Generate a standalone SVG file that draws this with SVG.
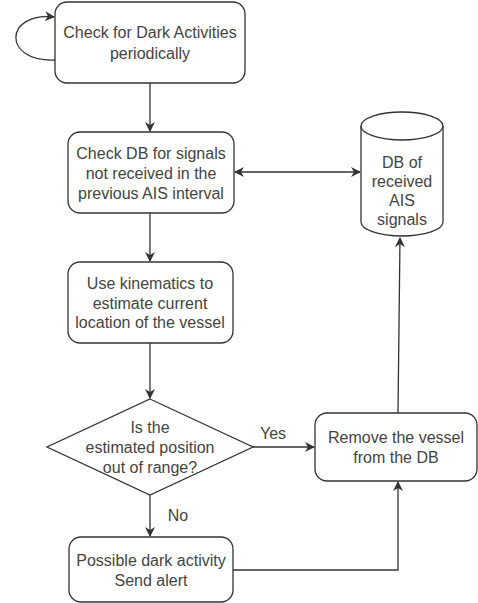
<svg xmlns="http://www.w3.org/2000/svg" width="478" height="603" viewBox="0 0 478 603">
<defs>
<style>
.n{fill:#fff;stroke:#333;stroke-width:1.3}
.t{font-family:"Liberation Sans",Arial,sans-serif;font-size:16px;fill:#444;text-anchor:middle}
.c{fill:none;stroke:#333;stroke-width:1.3}
</style>
<marker id="ah" viewBox="0 0 10 10" refX="9" refY="5" markerWidth="10" markerHeight="10" markerUnits="userSpaceOnUse" orient="auto-start-reverse">
<path d="M0,0 L10,5 L0,10 L3,5 Z" fill="#333"/>
</marker>
</defs>
<rect width="478" height="603" fill="#fff"/>
<g id="connectors">
<path class="c" d="M55,60 C2,62 4,12 54,17" marker-end="url(#ah)"/>
<path class="c" d="M150,83 L150,131" marker-end="url(#ah)"/>
<path class="c" d="M235,172 L360,172" marker-start="url(#ah)" marker-end="url(#ah)"/>
<path class="c" d="M150,213 L150,261" marker-end="url(#ah)"/>
<path class="c" d="M150,343 L150,398" marker-end="url(#ah)"/>
<path class="c" d="M253,447 L314,447" marker-end="url(#ah)"/>
<path class="c" d="M150,495 L150,536" marker-end="url(#ah)"/>
<path class="c" d="M233,570 L398,570 L398,482" marker-end="url(#ah)"/>
<path class="c" d="M398,413 L400,238" marker-end="url(#ah)"/>
<text class="t" x="273" y="439">Yes</text>
<text class="t" x="178" y="521">No</text>
</g>
<g id="n1">
<rect class="n" x="55" y="2" width="190" height="81" rx="12"/>
<text class="t" x="150" y="38">Check for Dark Activities</text>
<text class="t" x="150" y="59">periodically</text>
</g>
<g id="n2">
<rect class="n" x="68" y="132" width="166" height="81" rx="12"/>
<text class="t" x="151" y="159">Check DB for signals</text>
<text class="t" x="151" y="179">not received in the</text>
<text class="t" x="151" y="199">previous AIS interval</text>
</g>
<g id="db">
<path class="n" d="M361,126 A41,14 0 0 1 443,126 L443,222 A41,14 0 0 1 361,222 Z"/>
<path class="c" d="M361,126 A41,14 0 0 0 443,126"/>
<text class="t" x="402" y="168">DB of</text>
<text class="t" x="402" y="187">received</text>
<text class="t" x="402" y="206">AIS</text>
<text class="t" x="402" y="225">signals</text>
</g>
<g id="n3">
<rect class="n" x="68" y="262" width="165" height="81" rx="12"/>
<text class="t" x="150" y="289">Use kinematics to</text>
<text class="t" x="150" y="309">estimate current</text>
<text class="t" x="150" y="328">location of the vessel</text>
</g>
<g id="decision">
<path class="n" d="M150,399 L253,447 L150,495 L47,447 Z"/>
<text class="t" x="150" y="433">Is the</text>
<text class="t" x="150" y="453">estimated position</text>
<text class="t" x="150" y="473">out of range?</text>
</g>
<g id="remove">
<rect class="n" x="315" y="413" width="162" height="68" rx="12"/>
<text class="t" x="396" y="443">Remove the vessel</text>
<text class="t" x="396" y="463">from the DB</text>
</g>
<g id="alert">
<rect class="n" x="69" y="537" width="164" height="65" rx="12"/>
<text class="t" x="151" y="566">Possible dark activity</text>
<text class="t" x="151" y="586">Send alert</text>
</g>
</svg>
